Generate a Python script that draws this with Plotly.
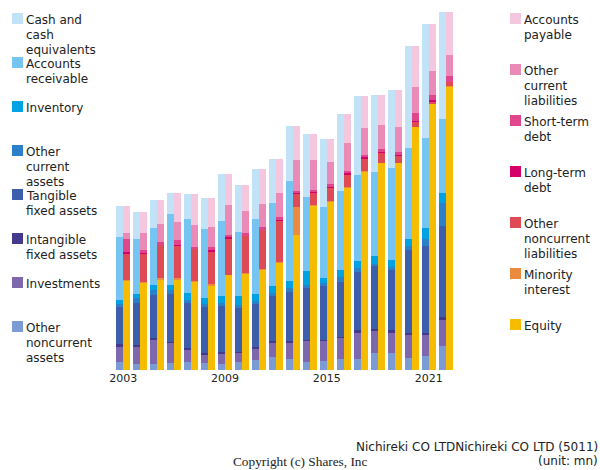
import plotly.graph_objects as go

years = list(range(2003, 2023))
tick_years = [2003, 2009, 2015, 2021]

# Assets (bottom -> top)
other_noncurrent_assets = [8, 6, 6, 7, 8, 7, 6, 7.7, 10, 13, 11, 8, 9.3, 11, 11, 17, 17, 12, 14, 24]
investments = [15, 17, 24, 20.3, 12.7, 8.7, 10.7, 9.7, 11.3, 14.7, 16.7, 21, 20, 21, 26, 22, 20, 23, 21, 26]
intangible_fixed = [3, 2, 1.7, 1, 1, 1, 1.3, 0.7, 1.7, 1.3, 1.3, 1.3, 1, 1.3, 3, 2, 3, 2, 2, 3]
tangible_fixed = [37.3, 41.7, 43.3, 48, 45.7, 46, 46, 44, 43, 45.3, 49.3, 52, 54, 54.7, 58.3, 63, 60, 83, 87, 91]
other_current_assets = [3, 5, 4.7, 3.3, 2.7, 3.7, 3.3, 3.3, 3.3, 3, 4, 3, 3, 5, 3.7, 2, 3, 4, 7, 22.7]
inventory = [3.7, 4.3, 5.3, 5.3, 7.3, 6, 7, 9, 7, 7, 7, 14, 5, 7, 7, 8, 7, 7, 11, 10.3]
accounts_receivable = [62.7, 55, 57.3, 71, 73.7, 68.7, 74.7, 63.7, 74.7, 82.7, 99.7, 73.7, 70.7, 79, 86, 84, 92, 91, 90, 74]
cash = [31.7, 27, 27.7, 20.7, 24.7, 30.7, 47, 47, 49.7, 44, 55, 62.7, 68.3, 77, 79, 77, 78, 102, 114, 107]

# Liabilities + equity (bottom -> top)
equity = [89, 87, 90.7, 90.7, 88.3, 84.7, 95, 96, 100, 107, 135.3, 164, 168, 182.7, 198.3, 207, 207, 243, 266, 283]
minority_interest = [1, 1, 1, 1, 1, 1, 0.3, 1, 1, 1, 27.7, 1, 1, 0.7, 0.7, 0.5, 0.3, 0.3, 0.7, 1]
other_noncurrent_liab = [26.7, 28.7, 33.3, 33, 31.7, 33, 36, 37, 39, 41.7, 13.3, 12.3, 13, 12, 12, 10, 6.7, 5, 1.3, 4]
long_term_debt = [1.3, 0.3, 0.3, 0.3, 0.3, 1.7, 2, 0.5, 0.3, 0.3, 0.3, 0.3, 1, 1.3, 1.7, 0.5, 1, 0.5, 2, 0.5]
short_term_debt = [13, 3.3, 2.3, 4.7, 2, 3, 2, 2.5, 2.7, 3, 2.3, 2.7, 3, 2.7, 2, 3.5, 3, 8.3, 5, 5.5]
other_current_liab = [6, 16.7, 18.7, 18.7, 21.3, 20, 30, 22, 23, 24, 31.3, 30, 22, 27.3, 27.3, 24, 25, 26, 24, 21]
accounts_payable = [27.3, 21.3, 24, 28.7, 31.3, 28.3, 31, 26, 34.7, 34, 34, 25.7, 23.3, 29.3, 32, 30, 37, 41, 47, 43]

asset_series = [
    ("Other noncurrent assets", ["Other", "noncurrent", "assets"], other_noncurrent_assets, "#7b9bd4"),
    ("Investments", ["Investments"], investments, "#7d68ad"),
    ("Intangible fixed assets", ["Intangible", "fixed assets"], intangible_fixed, "#443a8c"),
    ("Tangible fixed assets", ["Tangible", "fixed assets"], tangible_fixed, "#3d5eab"),
    ("Other current assets", ["Other", "current", "assets"], other_current_assets, "#2a80c9"),
    ("Inventory", ["Inventory"], inventory, "#00a2e3"),
    ("Accounts receivable", ["Accounts", "receivable"], accounts_receivable, "#76c4f1"),
    ("Cash and cash equivalents", ["Cash and", "cash", "equivalents"], cash, "#c2e3f7"),
]
liab_series = [
    ("Equity", ["Equity"], equity, "#f5bc00"),
    ("Minority interest", ["Minority", "interest"], minority_interest, "#ec8a3d"),
    ("Other noncurrent liabilities", ["Other", "noncurrent", "liabilities"], other_noncurrent_liab, "#df4b55"),
    ("Long-term debt", ["Long-term", "debt"], long_term_debt, "#d6006a"),
    ("Short-term debt", ["Short-term", "debt"], short_term_debt, "#e0468c"),
    ("Other current liabilities", ["Other", "current", "liabilities"], other_current_liab, "#e98ab7"),
    ("Accounts payable", ["Accounts", "payable"], accounts_payable, "#f4c7de"),
]

W, H = 600, 470
L, R, T, B = 113, 145, 10, 100
PW, PH = W - L - R, H - T - B
BW = 0.41

fig = go.Figure()
for name, _, vals, col in asset_series:
    fig.add_trace(go.Bar(x=[y - BW / 2 for y in years], y=vals, width=BW, name=name,
                         marker=dict(color=col, line=dict(width=0)), showlegend=False))
for name, _, vals, col in liab_series:
    fig.add_trace(go.Bar(x=[y + BW / 2 for y in years], y=vals, width=BW, name=name,
                         marker=dict(color=col, line=dict(width=0)), showlegend=False))


def px(x):
    return (x - L) / PW


def py(y):
    return (T + PH - y) / PH


annotations = []
shapes = []
FONT = "DejaVu Sans"


def add_legend(items, x_sq, text_x, top0, step):
    for i, (_, lines, _, col) in enumerate(items):
        top = top0 + step * i
        shapes.append(dict(type="rect", xref="paper", yref="paper",
                           x0=px(x_sq), x1=px(x_sq + 11), y0=py(top), y1=py(top + 11),
                           fillcolor=col, line=dict(width=0)))
        for j, line in enumerate(lines):
            annotations.append(dict(text=line, xref="paper", yref="paper",
                                    x=px(text_x), y=py(top + 7 + 15 * j),
                                    xanchor="left", yanchor="middle", showarrow=False,
                                    borderpad=0, font=dict(family=FONT, size=12, color="#222")))


add_legend(list(reversed(asset_series)), 12, 25, 13, 44)
add_legend(list(reversed(liab_series)), 510, 523, 13, 51)

annotations.append(dict(text="Nichireki CO LTDNichireki CO LTD (5011)", xref="paper", yref="paper",
                        x=px(599), y=py(447), xanchor="right", yanchor="middle", showarrow=False,
                        borderpad=0, font=dict(family=FONT, size=12, color="#222")))
annotations.append(dict(text="(unit: mn)", xref="paper", yref="paper",
                        x=px(599), y=py(461), xanchor="right", yanchor="middle", showarrow=False,
                        borderpad=0, font=dict(family=FONT, size=12, color="#222")))
annotations.append(dict(text="Copyright (c) Shares, Inc", xref="paper", yref="paper",
                        x=px(300), y=py(461.5), xanchor="center", yanchor="middle", showarrow=False,
                        borderpad=0, font=dict(family="Liberation Serif", size=13.3, color="#222")))

fig.update_layout(
    width=W, height=H, barmode="stack", bargap=0,
    margin=dict(l=L, r=R, t=T, b=B, pad=0),
    paper_bgcolor="white", plot_bgcolor="white",
    xaxis=dict(range=[2002.4, 2022.55], tickvals=tick_years, ticktext=[str(y) for y in tick_years],
               showgrid=False, zeroline=False, showline=False, ticks="",
               tickfont=dict(family=FONT, size=11, color="#222")),
    yaxis=dict(range=[0, 360], visible=False, showgrid=False, zeroline=False),
    annotations=annotations, shapes=shapes,
)

fig.write_html("out.html", config={"displayModeBar": False},
               post_script="document.body.style.margin='0';document.body.style.overflow='hidden';")
